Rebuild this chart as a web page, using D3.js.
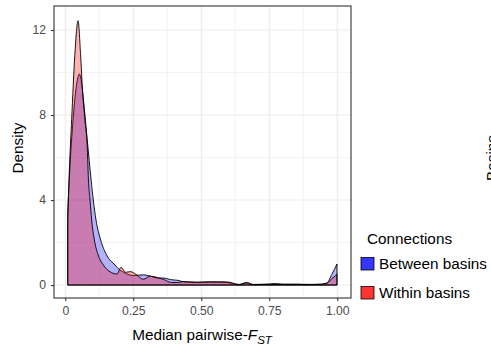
<!DOCTYPE html>
<html>
<head>
<meta charset="utf-8">
<script src="https://cdn.jsdelivr.net/npm/d3@7"></script>
<style>
  body { margin: 0; background: #fff; }
  svg { font-family: "Liberation Sans", Arial, sans-serif; }
</style>
</head>
<body>
<svg width="491" height="347"></svg>
<script>
// density estimates
var betweenFst = [0.009, 0.02, 0.03, 0.04, 0.052, 0.062, 0.07, 0.081, 0.095, 0.103, 0.113, 0.13, 0.152, 0.183, 0.2, 0.215, 0.23, 0.25, 0.287, 0.312, 0.34, 0.36, 0.39, 0.415, 0.433, 0.484, 0.53, 0.58, 0.606, 0.625, 0.64, 0.667, 0.69, 0.75, 0.77, 0.8, 0.85, 0.9, 0.94, 0.962, 0.98, 0.999];
var betweenDensity = [3.5, 6.2, 8.0, 9.3, 9.93, 9.3, 8.3, 6.8, 4.94, 4.0, 3.06, 2.12, 1.41, 0.94, 0.72, 0.6, 0.5, 0.45, 0.48, 0.42, 0.33, 0.33, 0.25, 0.22, 0.16, 0.13, 0.15, 0.13, 0.1, 0.04, 0.03, 0.12, 0.03, 0.05, 0.07, 0.04, 0.04, 0.03, 0.04, 0.1, 0.5, 0.99];

var withinFst = [0.009, 0.015, 0.0235, 0.035, 0.047, 0.056, 0.064, 0.072, 0.081, 0.085, 0.091, 0.097, 0.107, 0.121, 0.14, 0.165, 0.19, 0.205, 0.222, 0.24, 0.26, 0.287, 0.312, 0.34, 0.36, 0.39, 0.415, 0.433, 0.484, 0.53, 0.58, 0.606, 0.625, 0.64, 0.667, 0.69, 0.75, 0.8, 0.85, 0.9, 0.94, 0.962, 0.98, 0.999];
var withinDensity = [3.0, 5.4, 7.8, 10.8, 12.44, 10.9, 9.0, 7.8, 6.4, 5.0, 4.0, 3.06, 2.12, 1.41, 0.94, 0.62, 0.52, 0.83, 0.6, 0.63, 0.5, 0.27, 0.42, 0.35, 0.27, 0.12, 0.12, 0.16, 0.13, 0.14, 0.15, 0.13, 0.05, 0.02, 0.1, 0.02, 0.03, 0.03, 0.03, 0.02, 0.03, 0.08, 0.3, 0.5];

var xTicks = [0, 0.25, 0.5, 0.75, 1];
var xMinor = [0.125, 0.375, 0.625, 0.875];
var yTicks = [0, 4, 8, 12];
var yMinor = [2, 6, 10];
var groups = ["Between basins", "Within basins"];

var svg = d3.select("svg");
var panel = {left: 54, right: 351, top: 6, bottom: 298};

var x = d3.scaleLinear().domain([-0.0415, 1.0505]).range([panel.left, panel.right]);
var y = d3.scaleLinear().domain([-0.61, 13.13]).range([panel.bottom, panel.top]);

// grid
var grid = svg.append("g");
grid.selectAll(".xminor").data(xMinor).enter().append("line")
  .attr("x1", d => x(d)).attr("x2", d => x(d))
  .attr("y1", panel.top).attr("y2", panel.bottom)
  .attr("stroke", "#ebebeb").attr("stroke-width", 0.6);
grid.selectAll(".yminor").data(yMinor).enter().append("line")
  .attr("y1", d => y(d)).attr("y2", d => y(d))
  .attr("x1", panel.left).attr("x2", panel.right)
  .attr("stroke", "#ebebeb").attr("stroke-width", 0.6);
grid.selectAll(".xmajor").data(xTicks).enter().append("line")
  .attr("x1", d => x(d)).attr("x2", d => x(d))
  .attr("y1", panel.top).attr("y2", panel.bottom)
  .attr("stroke", "#ebebeb").attr("stroke-width", 1.1);
grid.selectAll(".ymajor").data(yTicks).enter().append("line")
  .attr("y1", d => y(d)).attr("y2", d => y(d))
  .attr("x1", panel.left).attr("x2", panel.right)
  .attr("stroke", "#ebebeb").attr("stroke-width", 1.1);

// densities
var area = d3.area()
  .x(d => x(d[0]))
  .y0(y(0))
  .y1(d => y(d[1]))
  .curve(d3.curveMonotoneX);

var series = [
  {name: groups[0], pts: d3.zip(betweenFst, betweenDensity), fill: "#0000ff"},
  {name: groups[1], pts: d3.zip(withinFst, withinDensity), fill: "#ff0000"}
];

svg.append("g").selectAll("path").data(series).enter().append("path")
  .attr("d", d => area(d.pts))
  .attr("fill", d => d.fill)
  .attr("fill-opacity", 0.3)
  .attr("stroke", "#000")
  .attr("stroke-width", 0.9)
  .attr("stroke-linejoin", "round");

// border
svg.append("rect")
  .attr("x", panel.left).attr("y", panel.top)
  .attr("width", panel.right - panel.left).attr("height", panel.bottom - panel.top)
  .attr("fill", "none").attr("stroke", "#333").attr("stroke-width", 1.1);

// axes
var xAxis = svg.append("g")
  .attr("transform", "translate(0," + panel.bottom + ")")
  .call(d3.axisBottom(x).tickValues(xTicks).tickSize(3).tickPadding(5)
    .tickFormat(d => d === 0 ? "0" : d3.format(".2f")(d)));
var yAxis = svg.append("g")
  .attr("transform", "translate(" + panel.left + ",0)")
  .call(d3.axisLeft(y).tickValues(yTicks).tickSize(3).tickPadding(5));
[xAxis, yAxis].forEach(function (g) {
  g.select(".domain").remove();
  g.selectAll(".tick line").attr("stroke", "#333").attr("stroke-width", 1.1);
  g.selectAll(".tick text").attr("fill", "#4d4d4d")
    .style("font-size", "12.2px").style("font-family", "Liberation Sans, Arial, sans-serif");
});

// titles
var xt = svg.append("text")
  .attr("x", 202).attr("y", 340)
  .attr("text-anchor", "middle")
  .style("font-size", "15.3px");
xt.append("tspan").text("Median pairwise-");
xt.append("tspan").style("font-style", "italic").text("F");
xt.append("tspan").style("font-style", "italic").style("font-size", "11.5px")
  .attr("dy", 4).text("ST");

svg.append("text")
  .attr("transform", "translate(23,148) rotate(-90)")
  .attr("text-anchor", "middle")
  .style("font-size", "15.3px")
  .text("Density");

// legend
svg.append("text")
  .attr("x", 367).attr("y", 243.5)
  .style("font-size", "15.3px")
  .text("Connections");

var legendColors = ["#3535ff", "#ff3535"];
var leg = svg.selectAll(".legend").data(groups).enter().append("g")
  .attr("class", "legend")
  .attr("transform", (d, i) => "translate(361," + (257.5 + i * 29) + ")");
leg.append("rect")
  .attr("width", 13).attr("height", 12.5)
  .attr("fill", (d, i) => legendColors[i])
  .attr("stroke", "#000").attr("stroke-width", 0.8);
leg.append("text")
  .attr("x", 18).attr("y", 11)
  .style("font-size", "15.3px")
  .text(d => d);

// title of the neighbouring panel, clipped at the right edge as in the reference
svg.append("text")
  .attr("transform", "translate(497,158) rotate(-90)")
  .attr("text-anchor", "middle")
  .style("font-size", "15.3px")
  .text("Basins");
</script>
</body>
</html>
